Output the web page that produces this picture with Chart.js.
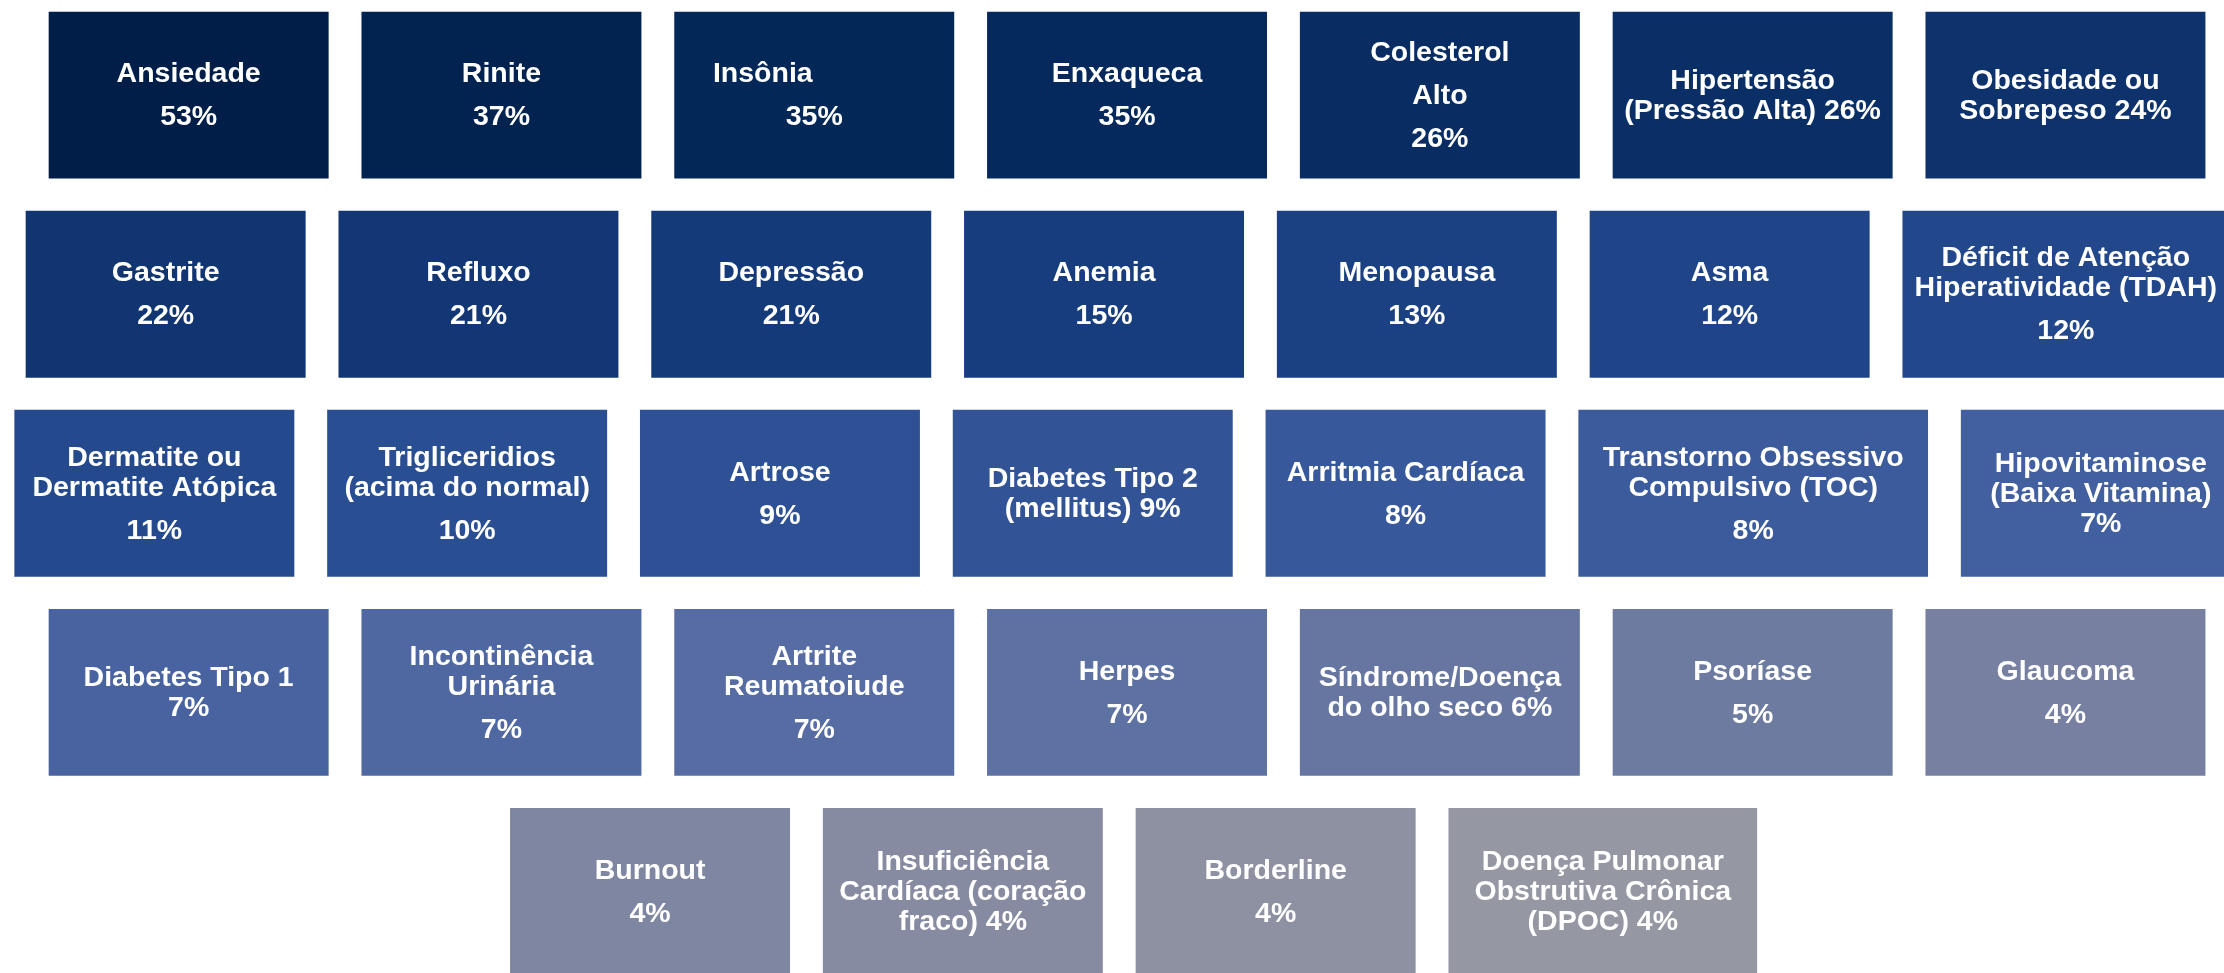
<!DOCTYPE html>
<html>
<head>
<meta charset="utf-8">
<script src="https://cdn.jsdelivr.net/npm/chart.js@4.4.1/dist/chart.umd.min.js"></script>
<style>
html,body{margin:0;padding:0;background:#ffffff;overflow:hidden}
canvas{display:block}
</style>
</head>
<body>
<canvas id="c" width="2224" height="973"></canvas>
<script>
// ---------- DATA ----------
const categories = [
  "Ansiedade", "Rinite", "Insônia", "Enxaqueca", "Colesterol Alto",
  "Hipertensão (Pressão Alta)", "Obesidade ou Sobrepeso",
  "Gastrite", "Refluxo", "Depressão", "Anemia", "Menopausa", "Asma",
  "Déficit de Atenção Hiperatividade (TDAH)",
  "Dermatite ou Dermatite Atópica", "Trigliceridios (acima do normal)", "Artrose",
  "Diabetes Tipo 2 (mellitus)", "Arritmia Cardíaca",
  "Transtorno Obsessivo Compulsivo (TOC)", "Hipovitaminose (Baixa Vitamina)",
  "Diabetes Tipo 1", "Incontinência Urinária", "Artrite Reumatoiude", "Herpes",
  "Síndrome/Doença do olho seco", "Psoríase", "Glaucoma",
  "Burnout", "Insuficiência Cardíaca (coração fraco)", "Borderline",
  "Doença Pulmonar Obstrutiva Crônica (DPOC)"
];
const values = [53, 37, 35, 35, 26, 26, 24,
                22, 21, 21, 15, 13, 12, 12,
                11, 10, 9, 9, 8, 8, 7,
                7, 7, 7, 7, 6, 5, 4,
                4, 4, 4, 4];
// text as laid out in each tile: "\n" = wrapped line, "\n\n" = new paragraph, {v} = value
const labelTemplates = [
  "Ansiedade\n\n{v}", "Rinite\n\n{v}", "Insônia             \n\n{v}", "Enxaqueca\n\n{v}",
  "Colesterol\n\nAlto\n\n{v}", "Hipertensão\n(Pressão Alta) {v}", "Obesidade ou\nSobrepeso {v}",
  "Gastrite\n\n{v}", "Refluxo\n\n{v}", "Depressão\n\n{v}", "Anemia\n\n{v}", "Menopausa\n\n{v}",
  "Asma\n\n{v}", "Déficit de Atenção\nHiperatividade (TDAH)\n\n{v}",
  "Dermatite ou\nDermatite Atópica\n\n{v}", "Trigliceridios\n(acima do normal)\n\n{v}",
  "Artrose\n\n{v}", "Diabetes Tipo 2\n(mellitus) {v}", "Arritmia Cardíaca\n\n{v}",
  "Transtorno Obsessivo\nCompulsivo (TOC)\n\n{v}", "Hipovitaminose\n(Baixa Vitamina)\n{v}",
  "Diabetes Tipo 1\n{v}", "Incontinência\nUrinária\n\n{v}", "Artrite\nReumatoiude\n\n{v}",
  "Herpes\n\n{v}", "Síndrome/Doença\ndo olho seco {v}", "Psoríase\n\n{v}", "Glaucoma\n\n{v}",
  "Burnout\n\n{v}", "Insuficiência\nCardíaca (coração\nfraco) {v}", "Borderline\n\n{v}",
  "Doença Pulmonar\nObstrutiva Crônica\n(DPOC) {v}"
];
const rowSizes = [7, 7, 7, 7, 4];

// ---------- STYLE / LAYOUT ----------
const tileColors = [
  "#001e48", "#022350", "#032757", "#05295c", "#092c62", "#0a2f66", "#0e326b",
  "#113571", "#133775", "#153a7a", "#183d7f", "#1b4183", "#1f4487", "#22478b",
  "#244a8d", "#2a4e92", "#2e5195", "#325496", "#37589a", "#3c5b9c", "#425f9f",
  "#4963a0", "#5068a1", "#566ca3", "#5e71a3", "#6676a1", "#6e7ba0", "#7780a1",
  "#7f86a1", "#878ba1", "#8e91a1", "#9597a3"
];
const W = 2224, H = 973;
const rowStart = [48, 25, 13.7, 48, 509.4];
const rowTop0 = 11, rowPitch = 199.1, tileH = 168.2, tileW = 281.3, gapX = 31.5;
const wideTiles = {13: 328, 19: 351, 31: 310};
const FONT_PX = 28.5, WRAP_GAP = 30, PARA_GAP = 43;

const tiles = [];
let idx = 0;
rowSizes.forEach((n, r) => {
  let left = rowStart[r];
  const cy = rowTop0 + r * rowPitch + tileH / 2;
  for (let k = 0; k < n; k++, idx++) {
    const w = wideTiles[idx] || tileW;
    tiles.push({x: [left, left + w], y: cy});
    left += w + gapX;
  }
});

function linesFor(i) {
  const parts = labelTemplates[i].replace("{v}", values[i] + "%").split("\n");
  const out = [];
  let pend = 0;
  parts.forEach(p => {
    if (p === "") { pend = 1; return; }
    out.push({text: p, gap: out.length === 0 ? 0 : (pend ? PARA_GAP : WRAP_GAP)});
    pend = 0;
  });
  return out;
}

const tileText = {
  id: 'tileText',
  afterDatasetsDraw(chart) {
    const ctx = chart.ctx;
    const meta = chart.getDatasetMeta(0);
    ctx.save();
    ctx.fillStyle = '#ffffff';
    ctx.font = 'bold ' + FONT_PX + 'px "Liberation Sans", Arial, sans-serif';
    ctx.textAlign = 'center';
    ctx.textBaseline = 'alphabetic';
    const capH = 0.716 * FONT_PX;
    meta.data.forEach((bar, i) => {
      const p = bar.getProps(['x', 'y', 'base'], true);
      const cx = (p.x + p.base) / 2;
      const lines = linesFor(i);
      let b = 0; const bases = [];
      lines.forEach(l => { b += l.gap; bases.push(b); });
      const mid = (-capH + bases[bases.length - 1]) / 2;
      const b0 = p.y - 1.5 - mid;
      lines.forEach((l, j) => ctx.fillText(l.text, cx, b0 + bases[j]));
    });
    ctx.restore();
  }
};

new Chart(document.getElementById('c'), {
  type: 'bar',
  data: {
    labels: categories,
    datasets: [{
      label: 'Prevalência',
      data: tiles,
      backgroundColor: tileColors,
      borderColor: 'rgba(255,255,255,0.35)',
      borderWidth: 1,
      borderSkipped: false,
      barThickness: tileH
    }]
  },
  options: {
    indexAxis: 'y',
    responsive: false,
    maintainAspectRatio: false,
    animation: false,
    layout: {padding: 0},
    plugins: {legend: {display: false}, tooltip: {enabled: false}, title: {display: false}},
    scales: {
      x: {type: 'linear', min: 0, max: W, display: false, offset: false},
      y: {type: 'linear', min: 0, max: H, reverse: true, display: false, offset: false}
    }
  },
  plugins: [tileText]
});
</script>
</body>
</html>
